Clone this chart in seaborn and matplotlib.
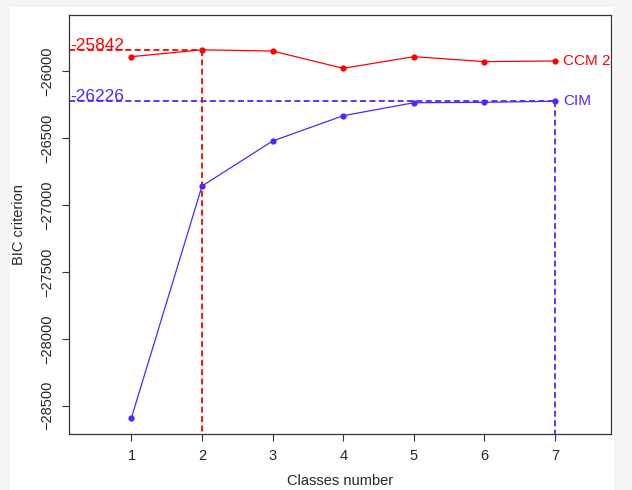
import numpy as np
import pandas as pd
import matplotlib
matplotlib.use("Agg")
import matplotlib.pyplot as plt
import seaborn as sns

# BIC values
classes = [1, 2, 3, 4, 5, 6, 7]
bic_ccm2 = [-25893, -25842, -25851, -25980, -25893, -25930, -25925]
bic_cim = [-28590, -26859, -26523, -26334, -26237, -26234, -26226]
series_names = ["CCM 2", "CIM"]
best_k = [2, 7]
best_bic = [-25842, -26226]
y_ticks = [-26000, -26500, -27000, -27500, -28000, -28500]

RED = "#FF0000"
BLUE = "#5522FF"

sns.set_style("ticks")
plt.rcParams["font.family"] = ["Liberation Sans", "DejaVu Sans"]

df = pd.DataFrame({
    "classes": classes * 2,
    "bic": bic_ccm2 + bic_cim,
    "model": [series_names[0]] * len(classes) + [series_names[1]] * len(classes),
})

fig = plt.figure(figsize=(6.32, 4.9), dpi=100, facecolor="#f4f4f4")
# white plotting page inside the grey border of the screenshot
fig.patches.append(plt.Rectangle((10 / 632, 0), 604 / 632, 483 / 490,
                                 transform=fig.transFigure, facecolor="white",
                                 edgecolor="none", zorder=-10))
ax = fig.add_axes([0.1097, 0.1143, 0.8566, 0.8545])
ax.set_facecolor("white")

xlim = (0.12, 7.79)
ylim = (-28711, -25584)
ax.set_xlim(*xlim)
ax.set_ylim(*ylim)

# dashed guides to the best number of classes
dash = (0, (3.3, 1.9))
for k, b, c in zip(best_k, best_bic, [RED, BLUE]):
    ax.plot([xlim[0], k], [b, b], color=c, lw=1.3, linestyle=dash, zorder=1)
    ax.plot([k, k], [b, ylim[0]], color=c, lw=1.3, linestyle=dash, zorder=1)
    ax.text(xlim[0] + 0.01, b, f"-{abs(b)}", color=c, fontsize=12.5,
            ha="left", va="baseline")

sns.lineplot(data=df, x="classes", y="bic", hue="model",
             palette=[RED, BLUE], marker="o", markersize=4.5,
             markeredgewidth=0, linewidth=0.9, legend=False, ax=ax, zorder=2)

for name, vals, c in zip(series_names, [bic_ccm2, bic_cim], [RED, BLUE]):
    ax.annotate(name, (classes[-1], vals[-1]), xytext=(6, 0),
                textcoords="offset points", color=c, fontsize=11,
                ha="left", va="center")

ax.set_xticks(classes)
ax.set_yticks(y_ticks)
ax.set_yticklabels([f"\u2212{abs(v)}" for v in y_ticks], rotation=90, va="center")
ax.tick_params(axis="both", labelsize=10.5, length=5, width=0.8, pad=6,
               color="#333333")
for s in ax.spines.values():
    s.set_visible(True)
    s.set_linewidth(0.9)
    s.set_color("#333333")

ax.set_xlabel("Classes number", fontsize=10.5, labelpad=8)
ax.set_ylabel("BIC criterion", fontsize=10.5, labelpad=10)

fig.savefig("out.png", dpi=100, facecolor=fig.get_facecolor())
